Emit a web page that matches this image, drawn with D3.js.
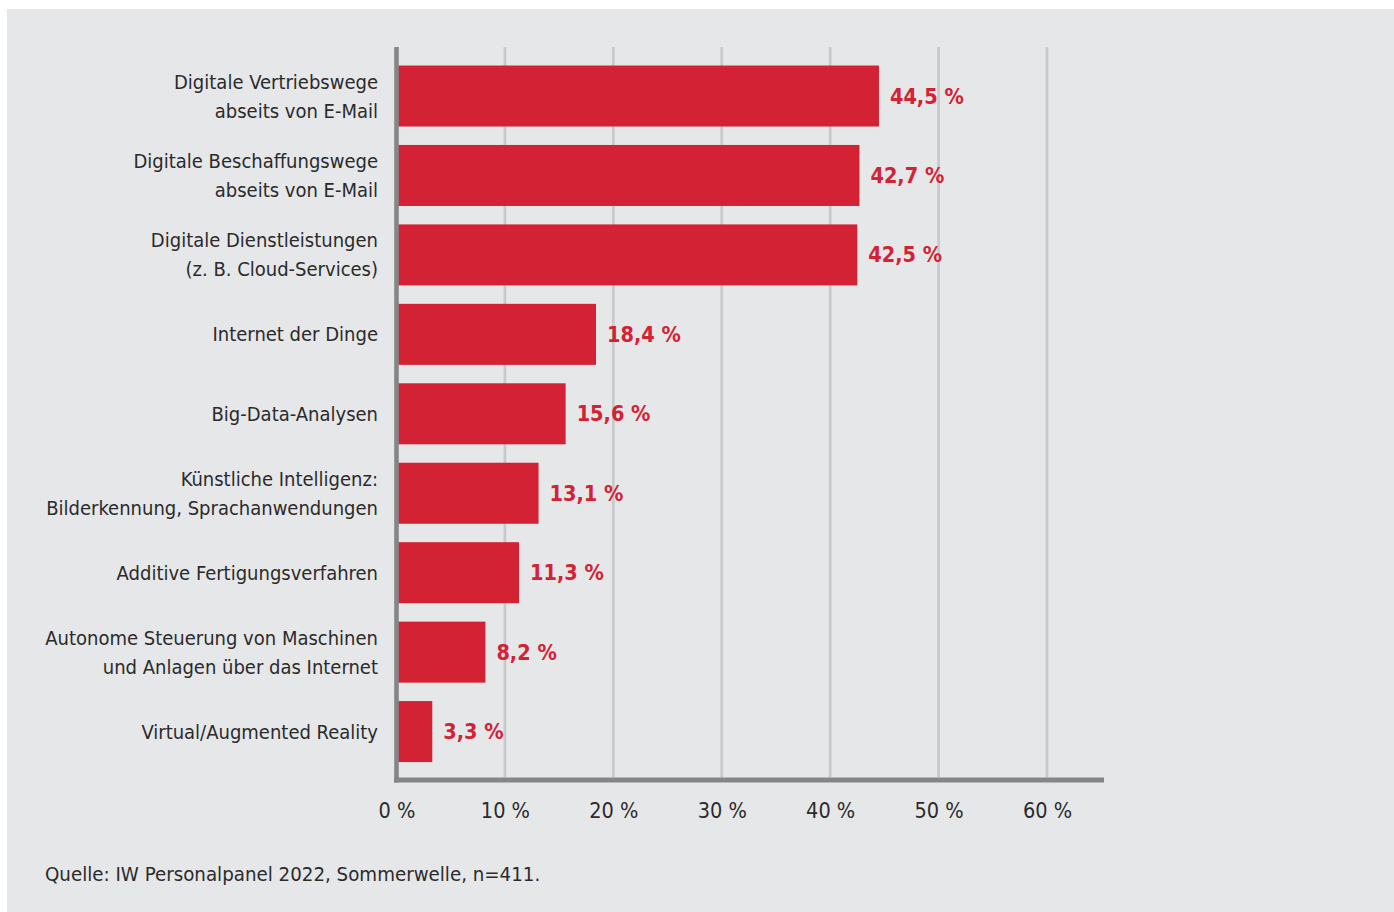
<!DOCTYPE html>
<html>
<head>
<meta charset="utf-8">
<script src="https://cdn.jsdelivr.net/npm/d3@7"></script>
<style>
  html, body { margin: 0; padding: 0; background: #ffffff; }
  svg { display: block; }
  text { font-family: "DejaVu Sans Condensed", "Liberation Sans Narrow", sans-serif; }
</style>
</head>
<body>
<svg id="chart" width="1394" height="912"></svg>
<script>
const categories = [
  ["Digitale Vertriebswege", "abseits von E-Mail"],
  ["Digitale Beschaffungswege", "abseits von E-Mail"],
  ["Digitale Dienstleistungen", "(z. B. Cloud-Services)"],
  ["Internet der Dinge"],
  ["Big-Data-Analysen"],
  ["Künstliche Intelligenz:", "Bilderkennung, Sprachanwendungen"],
  ["Additive Fertigungsverfahren"],
  ["Autonome Steuerung von Maschinen", "und Anlagen über das Internet"],
  ["Virtual/Augmented Reality"]
];
const values = [44.5, 42.7, 42.5, 18.4, 15.6, 13.1, 11.3, 8.2, 3.3];
const tickValues = [0, 10, 20, 30, 40, 50, 60];
const tickLabels = ["0 %", "10 %", "20 %", "30 %", "40 %", "50 %", "60 %"];
const sourceText = "Quelle: IW Personalpanel 2022, Sommerwelle, n=411.";

(function () {
const svg = d3.select("#chart");
const red = "#d22234";
const textColor = "#2b2b2b";
const FONT = '"DejaVu Sans Condensed", "Liberation Sans Narrow", sans-serif';

svg.append("rect").attr("x", 7).attr("y", 9).attr("width", 1394 - 7).attr("height", 912 - 9).attr("fill", "#e6e7e9");

const x = d3.scaleLinear().domain([0, 60]).range([396.5, 1047]);
const idx = d3.range(values.length);
const y = d3.scaleBand().domain(idx).range([56.3, 771.3]).paddingInner(0.232).paddingOuter(0.116);

const plotTop = 47, plotBottom = 777.5;

// gridlines
svg.append("g").selectAll("line").data(tickValues.filter(d => d > 0)).join("line")
  .attr("x1", d => x(d)).attr("x2", d => x(d))
  .attr("y1", plotTop).attr("y2", plotBottom)
  .attr("stroke", "#c8c9cb").attr("stroke-width", 2.7);

// bars
svg.append("g").selectAll("rect").data(idx).join("rect")
  .attr("x", x(0))
  .attr("y", i => y(i))
  .attr("width", i => x(values[i]) - x(0))
  .attr("height", y.bandwidth())
  .attr("fill", red);

// axes lines
svg.append("line").attr("x1", x(0)).attr("x2", x(0)).attr("y1", plotTop).attr("y2", 782.5)
  .attr("stroke", "#858688").attr("stroke-width", 4.6);
svg.append("line").attr("x1", 394).attr("x2", 1104).attr("y1", 780).attr("y2", 780)
  .attr("stroke", "#858688").attr("stroke-width", 5);

// x tick labels via axis
const xAxis = d3.axisBottom(x).tickValues(tickValues).tickFormat((d, i) => tickLabels[i]).tickSize(0).tickPadding(0);
const gx = svg.append("g").attr("transform", "translate(0,818)").call(xAxis);
gx.select(".domain").remove();
gx.selectAll("text").attr("dy", 0).attr("y", 0)
  .style("font-family", FONT)
  .style("font-size", "21.5px").attr("fill", textColor);

// value labels
svg.append("g").selectAll("text").data(idx).join("text")
  .attr("x", i => x(values[i]) + 11)
  .attr("y", i => y(i) + y.bandwidth() / 2 + 7.5)
  .attr("fill", red)
  .attr("font-weight", "bold")
  .attr("font-size", "21.5px")
  .text(i => values[i].toFixed(1).replace(".", ",") + " %");

// category labels
const lab = svg.append("g").selectAll("text").data(idx).join("text")
  .attr("text-anchor", "end")
  .attr("font-size", "20px")
  .attr("fill", textColor)
  .attr("x", 378)
  .attr("y", i => y(i) + y.bandwidth() / 2 + 7);
lab.each(function (i) {
  const lines = categories[i];
  const n = lines.length;
  d3.select(this).selectAll("tspan").data(lines).join("tspan")
    .attr("x", 378)
    .attr("y", (l, k) => y(i) + y.bandwidth() / 2 + 7 + (k - (n - 1) / 2) * 29)
    .text(l => l);
});

svg.append("text").attr("x", 45).attr("y", 881).attr("font-size", "20.3px").attr("fill", textColor).text(sourceText);
})();
</script>
</body>
</html>
